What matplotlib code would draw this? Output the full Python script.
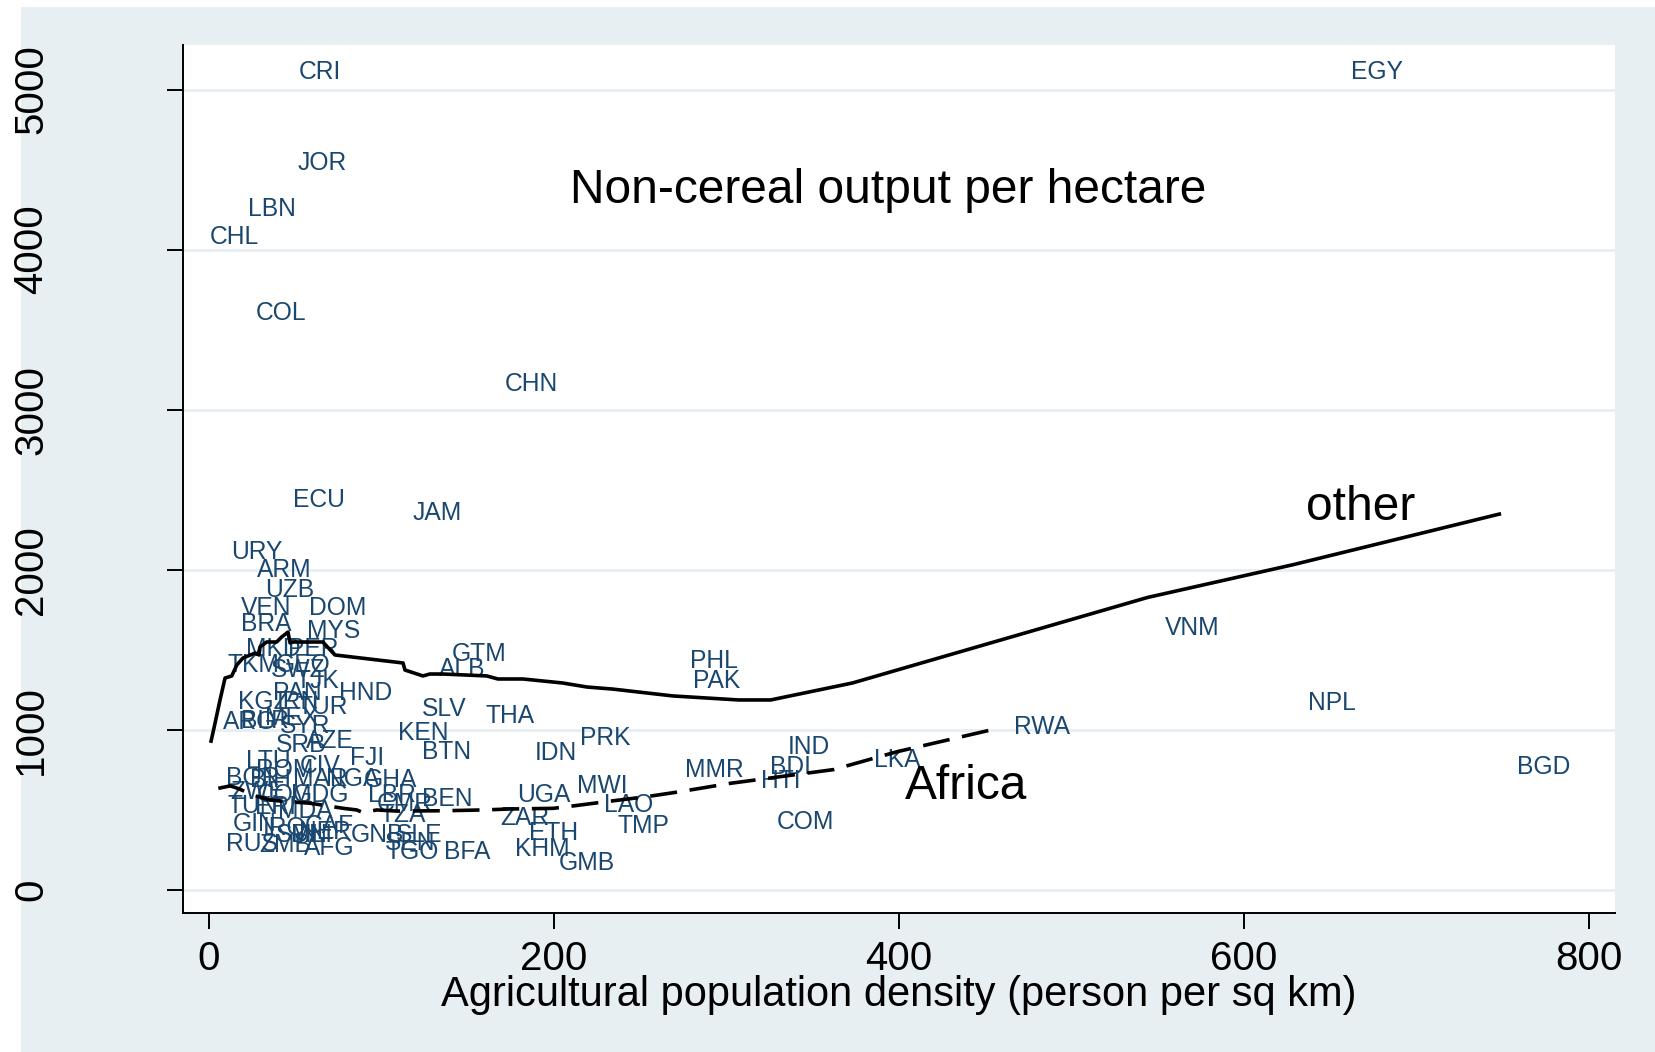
#!/usr/bin/env python3
"""Non-cereal output per hectare against agricultural population density."""

from __future__ import annotations

import matplotlib

matplotlib.use("Agg")
import matplotlib.pyplot as plt
from matplotlib.patches import Rectangle

# Country codes with (density, output per hectare)
CODES = [
    "CRI", "EGY", "JOR", "LBN", "CHL", "COL", "CHN", "ECU", "JAM", "URY",
    "ARM", "UZB", "VEN", "DOM", "BRA", "MYS", "GTM", "ALB", "PHL", "PAK",
    "VNM", "NPL", "RWA", "BGD", "HND", "SLV", "THA", "KEN", "PRK", "BTN",
    "IDN", "IND", "FJI", "MMR", "BDI", "LKA", "HTI", "MWI", "UGA", "LAO",
    "COM", "ZAR", "TMP", "ETH", "KHM", "GMB",
    "MKD", "PER", "TKM", "GEO", "SWZ", "TJK", "PAN", "KGZ", "IRN", "TUR",
    "ARG", "BLR", "MEX", "SYR", "SRB", "AZE", "LTU", "ROM", "CIV", "BGR",
    "BIH", "MAR", "NGA", "GHA", "ZWE", "COG", "MDG", "TUN", "ERI", "MDA",
    "GIN", "IRQ", "CAF", "SDN", "MLI", "NER", "RUS", "ZMB", "AFG", "GNB",
    "LBR", "CMR", "BEN", "TZA", "SLE", "SEN", "TGO", "BFA",
]
DENSITY = [
    64, 677, 65.5, 36.7, 14.7, 41.6, 186.7, 64, 132, 27.5,
    43.5, 47, 33, 74.7, 33, 72, 156.7, 146.9, 292.5, 294,
    570, 651, 483, 773.5, 90.6, 136.5, 174.4, 124, 230, 138,
    201, 347.6, 91.8, 293, 337, 399, 331.7, 228, 194, 243,
    346, 183, 252, 199.5, 193, 219,
    37.1, 60.3, 25.5, 54.5, 51.6, 62.6, 51, 31.3, 51.6, 66,
    23.8, 32.5, 48, 55.7, 53.3, 70, 34.2, 44, 64.3, 25.5,
    35.4, 64.3, 83.5, 105, 28.4, 44, 64.3, 25.5, 38.3, 55.7,
    26.7, 44, 70, 54, 59.7, 67, 25, 44, 70, 97.4,
    106, 113.6, 138, 112.5, 122, 116.5, 118, 149.6,
]
OUTPUT = [
    5125, 5125, 4558, 4268, 4096, 3621, 3179, 2454, 2368, 2124,
    2012, 1887, 1774, 1774, 1675, 1636, 1491, 1398, 1445, 1319,
    1649, 1181, 1036, 785, 1247, 1148, 1102, 996, 963, 877,
    871, 910, 838, 765, 785, 825, 699, 666, 607, 548,
    442, 468, 416, 369, 270, 185,
    1518, 1518, 1424, 1418, 1387, 1318, 1249, 1187, 1187, 1156,
    1068, 1074, 1093, 1037, 924, 949, 824, 762, 793, 718,
    700, 706, 706, 700, 625, 612, 612, 543, 531, 512,
    425, 400, 418, 356, 362, 375, 300, 294, 275, 362,
    606, 550, 581, 487, 362, 312, 250, 250,
]

# Smoothed fit, non-African countries
OTHER_X = [
    1.2, 2.9, 6.4, 9.3, 13.2, 16.1, 19.7, 26.7, 29.0, 29.6, 33.4, 39.2,
    42.1, 45.8, 47.0, 48.7, 66.0, 73.0, 112.5, 113.6, 124.0, 128.0,
    135.7, 161.0, 167.5, 182.0, 205.0, 219.0, 234.0, 269.0, 307.0,
    325.6, 373.0, 544.0, 628.5, 748.0,
]
OTHER_Y = [
    930, 1012, 1187, 1324, 1337, 1405, 1449, 1480, 1468, 1518, 1549, 1549,
    1580, 1611, 1543, 1549, 1549, 1468, 1418, 1374, 1337, 1349,
    1349, 1337, 1318, 1318, 1293, 1268, 1255, 1212, 1187,
    1187, 1293, 1827, 2032, 2348,
]

# Smoothed fit, African countries
AFRICA_X = [
    5.4, 12.2, 15.0, 18.0, 25.5, 35.4, 45.0, 58.6, 77.9, 85.6, 89.4, 97.2,
    108.8, 135.8, 159.0, 174.5, 199.4, 207.4, 230.5, 253.7, 273.0, 302.0,
    362.0, 399.0, 457.0,
]
AFRICA_Y = [
    635, 650, 641, 629, 593, 562, 552, 542, 510, 500, 483, 500,
    493, 495, 500, 506, 510, 520, 552, 583, 614, 666,
    752, 864, 1009,
]

BACKGROUND = "#e8eff2"
LABEL_COLOR = "#1a476f"


def main() -> None:
    plt.rcParams["font.family"] = ["Liberation Sans", "DejaVu Sans"]

    fig = plt.figure(figsize=(16.55, 10.52), dpi=100, facecolor="white")
    # outer graph region, drawn behind the axes
    fig.patches.append(
        Rectangle((21 / 1655, 0), 1 - 21 / 1655, 1 - 7 / 1052,
                  transform=fig.transFigure, facecolor=BACKGROUND,
                  edgecolor="none", zorder=-10)
    )
    axis = fig.add_axes([183 / 1655, 1 - 913 / 1052, 1432 / 1655, 868 / 1052])
    axis.set_facecolor("white")

    for code, x, y in zip(CODES, DENSITY, OUTPUT):
        axis.text(x, y, code, fontsize=17.7, color=LABEL_COLOR,
                  ha="center", va="center_baseline", zorder=3)

    axis.plot(OTHER_X, OTHER_Y, color="black", linewidth=2.6, zorder=4)
    axis.plot(AFRICA_X, AFRICA_Y, color="black", linewidth=2.6,
              linestyle=(0, (7.5, 3.5)), zorder=4)

    axis.text(394, 4400, "Non-cereal output per hectare", fontsize=34.5,
              ha="center", va="center_baseline")
    axis.text(667.7, 2421, "other", fontsize=34.5, ha="center",
              va="center_baseline")
    axis.text(438.8, 679, "Africa", fontsize=34.5, ha="center",
              va="center_baseline")

    axis.set_xlim(-15.07, 815.07)
    axis.set_ylim(-143.7, 5278)
    axis.set_xticks([0, 200, 400, 600, 800])
    axis.set_yticks([0, 1000, 2000, 3000, 4000, 5000])
    axis.grid(axis="y", color=BACKGROUND, linewidth=2.2, zorder=1)
    axis.set_axisbelow(True)

    for side in ("top", "right"):
        axis.spines[side].set_visible(False)
    for side in ("left", "bottom"):
        axis.spines[side].set_linewidth(1.4)

    axis.tick_params(axis="both", direction="out", length=11.5, width=1.4,
                     labelsize=29)
    axis.tick_params(axis="x", pad=8)
    axis.tick_params(axis="y", pad=84)
    plt.setp(axis.get_yticklabels(), rotation=90, va="center")

    axis.set_xlabel("Agricultural population density (person per sq km)",
                    fontsize=30, va="center")
    axis.xaxis.set_label_coords(0.5, -0.095)

    fig.savefig("out.png", dpi=100, facecolor=fig.get_facecolor())
    plt.close(fig)


if __name__ == "__main__":
    main()
